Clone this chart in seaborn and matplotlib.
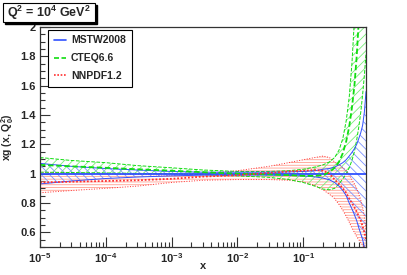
import matplotlib
matplotlib.use("Agg")
import matplotlib.pyplot as plt
from matplotlib.patches import Rectangle
import seaborn as sns
import pandas as pd
import numpy as np

# x grid
x_vals = [1e-5, 3e-5, 1e-4, 3e-4, 1e-3, 3e-3, 1e-2, 3e-2, 0.06, 0.1, 0.15, 0.2, 0.25,
          0.3, 0.35, 0.4, 0.45, 0.5, 0.55, 0.6, 0.65, 0.7, 0.75, 0.8, 0.85, 0.9]

# MSTW2008 (reference, central = 1)
mstw_c = [1.0] * len(x_vals)
mstw_hi = [1.07, 1.05, 1.035, 1.025, 1.015, 1.01, 1.01, 1.01, 1.012, 1.015, 1.02, 1.03, 1.035,
           1.045, 1.06, 1.075, 1.095, 1.12, 1.145, 1.17, 1.2, 1.24, 1.28, 1.33, 1.42, 1.56]
mstw_lo = [0.93, 0.95, 0.967, 0.977, 0.985, 0.99, 0.99, 0.99, 0.988, 0.985, 0.978, 0.97, 0.958,
           0.94, 0.915, 0.885, 0.85, 0.8, 0.76, 0.72, 0.68, 0.63, 0.59, 0.55, 0.5, 0.45]

# CTEQ6.6
cteq_c = [1.06, 1.05, 1.04, 1.03, 1.02, 1.01, 1.0, 0.995, 0.99, 0.985, 0.985, 0.99, 1.01,
          1.04, 1.08, 1.14, 1.22, 1.32, 1.45, 1.6, 1.8, 2.05, 2.3, 2.6, 2.9, 3.2]
cteq_hi = [1.11, 1.09, 1.075, 1.055, 1.04, 1.025, 1.015, 1.015, 1.02, 1.03, 1.045, 1.06, 1.08,
           1.11, 1.16, 1.24, 1.36, 1.52, 1.75, 2.05, 2.4, 2.8, 3.2, 3.6, 4.0, 4.4]
cteq_lo = [1.01, 1.008, 1.005, 1.002, 1.0, 0.993, 0.985, 0.975, 0.96, 0.94, 0.915, 0.895, 0.89,
           0.9, 0.93, 0.965, 1.0, 1.04, 1.09, 1.15, 1.23, 1.32, 1.42, 1.54, 1.67, 1.82]

# NNPDF1.2
nnpdf_c = [0.94, 0.945, 0.95, 0.955, 0.965, 0.98, 0.99, 1.005, 1.015, 1.02, 1.025, 1.02, 1.0,
           0.96, 0.93, 0.9, 0.87, 0.83, 0.8, 0.77, 0.74, 0.71, 0.68, 0.64, 0.6, 0.55]
nnpdf_hi = [1.01, 1.005, 1.0, 0.995, 0.99, 1.0, 1.02, 1.05, 1.075, 1.095, 1.11, 1.12, 1.11,
            1.08, 1.06, 1.04, 1.02, 0.99, 0.96, 0.93, 0.9, 0.86, 0.82, 0.77, 0.71, 0.62]
nnpdf_lo = [0.87, 0.885, 0.9, 0.915, 0.94, 0.955, 0.96, 0.96, 0.955, 0.945, 0.92, 0.89, 0.86,
            0.83, 0.79, 0.75, 0.71, 0.67, 0.63, 0.6, 0.57, 0.55, 0.53, 0.51, 0.49, 0.47]

x_ticks = [1e-5, 1e-4, 1e-3, 1e-2, 1e-1]
x_ticklabels = [r'10$^{-5}$', r'10$^{-4}$', r'10$^{-3}$', r'10$^{-2}$', r'10$^{-1}$']
y_ticks = [0.6, 0.8, 1.0, 1.2, 1.4, 1.6, 1.8, 2.0]
y_ticklabels = ['0.6', '0.8', '1', '1.2', '1.4', '1.6', '1.8', '2']

sns.set_style("ticks")
plt.rcParams['font.family'] = ['Liberation Sans', 'DejaVu Sans']
plt.rcParams['font.weight'] = 'bold'
plt.rcParams['mathtext.fontset'] = 'custom'
plt.rcParams['mathtext.rm'] = 'Liberation Sans:bold'
plt.rcParams['mathtext.it'] = 'Liberation Sans:bold'
plt.rcParams['mathtext.bf'] = 'Liberation Sans:bold'
plt.rcParams['mathtext.default'] = 'rm'
plt.rcParams['hatch.linewidth'] = 0.6

fig = plt.figure(figsize=(4.07, 2.75), dpi=100)
ax = fig.add_axes([40 / 407, 1 - 247 / 275, 326 / 407, 220 / 275])

sets = [
    ('MSTW2008', mstw_c, mstw_lo, mstw_hi, '#3050ff', '#7d92ff', '\\\\\\\\', '-'),
    ('CTEQ6.6', cteq_c, cteq_lo, cteq_hi, '#10dd10', '#78ee78', '////', '--'),
    ('NNPDF1.2', nnpdf_c, nnpdf_lo, nnpdf_hi, '#ff3030', '#ffa090', '------', ':'),
]

# bands: hatched fill plus edge lines (drawn back to front like the original)
for name, c, lo, hi, col, hcol, hatch, ls in reversed(sets):
    ax.fill_between(x_vals, lo, hi, facecolor='none', edgecolor=hcol, hatch=hatch, lw=0)
    ax.plot(x_vals, lo, color=col, ls=ls, lw=0.7)
    ax.plot(x_vals, hi, color=col, ls=ls, lw=0.7)

rows = []
for name, c, lo, hi, col, hcol, hatch, ls in sets:
    for xv, yv in zip(x_vals, c):
        rows.append({'x': xv, 'y': yv, 'set': name})
df = pd.DataFrame(rows)

palette = {s[0]: s[4] for s in sets}
sns.lineplot(data=df, x='x', y='y', hue='set', style='set', palette=palette,
             dashes={'MSTW2008': '', 'CTEQ6.6': (3, 1.5), 'NNPDF1.2': (1, 1)},
             hue_order=[s[0] for s in sets], style_order=[s[0] for s in sets],
             lw=1.3, ax=ax, sort=False, estimator=None)

ax.set_xscale('log')
ax.set_xlim(1e-5, 0.9)
ax.set_ylim(0.5, 2.0)
ax.set_xticks(x_ticks)
ax.set_xticklabels(x_ticklabels)
ax.set_yticks(y_ticks)
ax.set_yticklabels(y_ticklabels)
ax.yaxis.set_minor_locator(matplotlib.ticker.MultipleLocator(0.05))
ax.xaxis.set_minor_locator(matplotlib.ticker.LogLocator(base=10, subs=np.arange(2, 10)))
ax.xaxis.set_minor_formatter(matplotlib.ticker.NullFormatter())
ax.tick_params(axis='both', which='both', direction='in', labelsize=8, width=0.8,
               color='#333333', pad=3)
ax.tick_params(axis='both', which='major', length=7)
ax.tick_params(axis='both', which='minor', length=3.5)
for sp in ax.spines.values():
    sp.set_linewidth(0.9)
    sp.set_color('#333333')

ax.set_xlabel('x', fontsize=8, fontweight='bold')
ax.xaxis.set_label_coords(0.5, -0.065)
ax.set_ylabel(r'xg (x, Q$_0^2$)', fontsize=7.5, fontweight='bold')
ax.yaxis.set_label_coords(-0.074, 0.5)

leg = ax.legend(loc='upper left', bbox_to_anchor=(0.025, 0.988), fontsize=7.5,
                frameon=True, fancybox=False, framealpha=1, edgecolor='black',
                handlelength=1.15, labelspacing=0.75, borderpad=0.55, handletextpad=0.5,
                borderaxespad=0)
leg.get_frame().set_linewidth(0.8)
for t in leg.get_texts():
    t.set_fontweight('bold')
for ln in leg.get_lines():
    ln.set_linewidth(1.2)

# title box with shadow (ROOT style)
fig.patches.append(Rectangle((5 / 407, 1 - 24 / 275), 92 / 407, 19 / 275,
                             transform=fig.transFigure, facecolor='black', edgecolor='black'))
fig.patches.append(Rectangle((3 / 407, 1 - 22 / 275), 92 / 407, 19 / 275,
                             transform=fig.transFigure, facecolor='white', edgecolor='black', lw=0.8))
fig.text(49 / 407, 1 - 12.5 / 275, r'Q$^2$ = 10$^4$ GeV$^2$', fontsize=9,
         fontweight='bold', ha='center', va='center')

fig.savefig('out.png', dpi=100)
